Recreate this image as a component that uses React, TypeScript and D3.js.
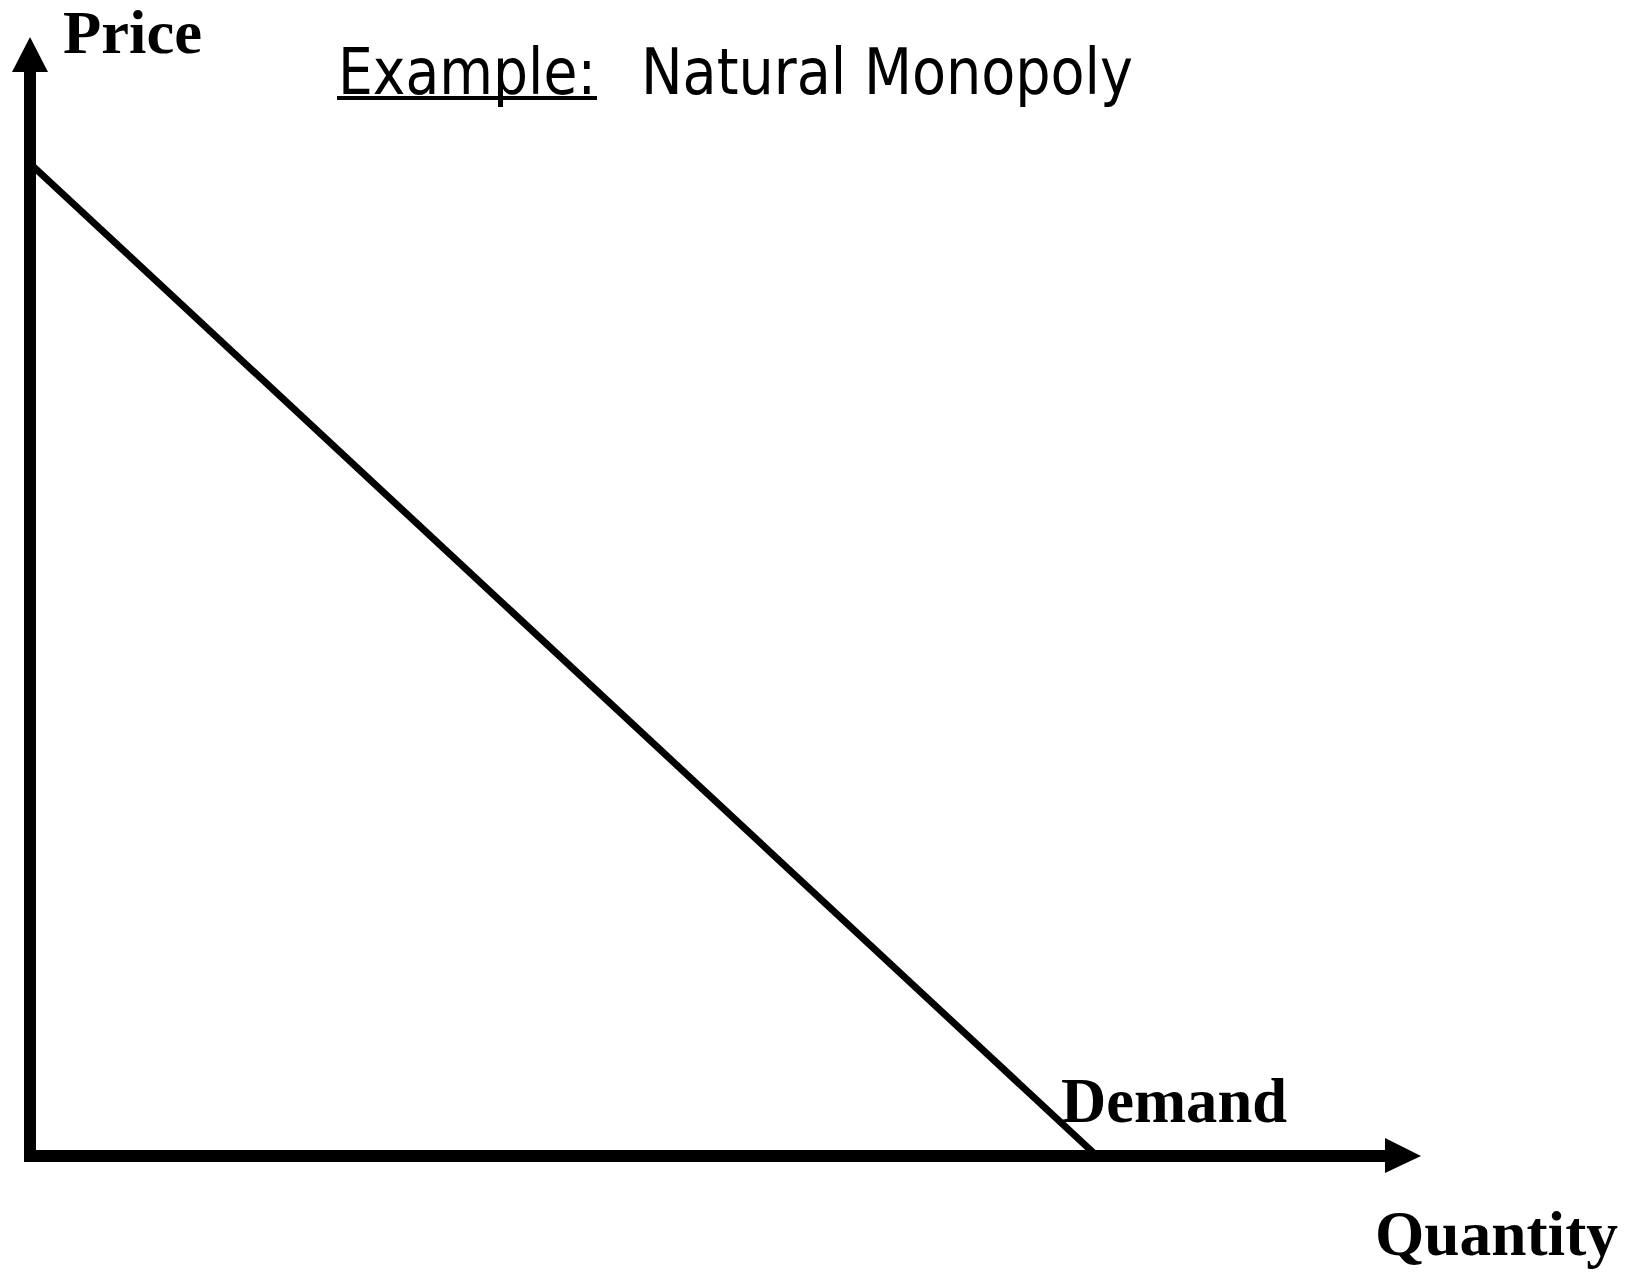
import React from "react";
import * as d3 from "d3";

const W = 1634;
const H = 1273;

// Axis domain (arbitrary units, max = arrow tip)
const quantityDomain = [0, 100];
const priceDomain = [0, 100];

// Demand curve points
const demandQuantity = [0, 76.7];
const demandPrice = [88.7, 0];

const titleUnderlined = "Example:";
const titleRest = "Natural Monopoly";
const yLabel = "Price";
const xLabel = "Quantity";
const demandLabel = "Demand";

export default function App() {
  const x = d3.scaleLinear().domain(quantityDomain).range([30, 1421]);
  const y = d3.scaleLinear().domain(priceDomain).range([1156, 37]);

  const pts: [number, number][] = demandQuantity.map((q, i) => [q, demandPrice[i]]);
  const line = d3
    .line<[number, number]>()
    .x((d) => x(d[0]))
    .y((d) => y(d[1]));

  const x0 = x(0);
  const y0 = y(0);
  const xTip = x(quantityDomain[1]);
  const yTip = y(priceDomain[1]);

  const serif = "'Liberation Serif', 'Times New Roman', serif";
  const sans = "'DejaVu Sans Condensed', 'DejaVu Sans', Verdana, sans-serif";

  return (
    <svg
      width={W}
      height={H}
      style={{ position: "absolute", left: 0, top: 0, background: "#fff" }}
    >
      <rect x={0} y={0} width={W} height={H} fill="#fff" />
      {/* Demand line */}
      <path d={line(pts) || ""} fill="none" stroke="#000" strokeWidth={7} />
      {/* Y axis */}
      <line x1={x0} y1={y0 + 6} x2={x0} y2={yTip + 30} stroke="#000" strokeWidth={12} />
      <path
        d={`M${x0},${yTip} L${x0 - 18},${yTip + 35} L${x0 + 18},${yTip + 35} Z`}
        fill="#000"
      />
      {/* X axis */}
      <line x1={x0} y1={y0} x2={xTip - 30} y2={y0} stroke="#000" strokeWidth={12} />
      <path
        d={`M${xTip},${y0} L${xTip - 36},${y0 - 18} L${xTip - 36},${y0 + 17} Z`}
        fill="#000"
      />
      {/* Labels */}
      <text x={63} y={53} fontFamily={serif} fontWeight="bold" fontSize={62} textLength={139} lengthAdjust="spacingAndGlyphs">
        {yLabel}
      </text>
      <text x={1375} y={1255} fontFamily={serif} fontWeight="bold" fontSize={63} textLength={243} lengthAdjust="spacingAndGlyphs">
        {xLabel}
      </text>
      <text x={1061} y={1122} fontFamily={serif} fontWeight="bold" fontSize={63} textLength={226} lengthAdjust="spacingAndGlyphs">
        {demandLabel}
      </text>
      {/* Title */}
      <text x={338} y={94} fontFamily={sans} fontSize={64} textLength={258} lengthAdjust="spacingAndGlyphs">
        {titleUnderlined}
      </text>
      <rect x={337} y={96} width={260} height={4} fill="#000" />
      <text x={641} y={94} fontFamily={sans} fontSize={64} textLength={492} lengthAdjust="spacingAndGlyphs">
        {titleRest}
      </text>
    </svg>
  );
}
